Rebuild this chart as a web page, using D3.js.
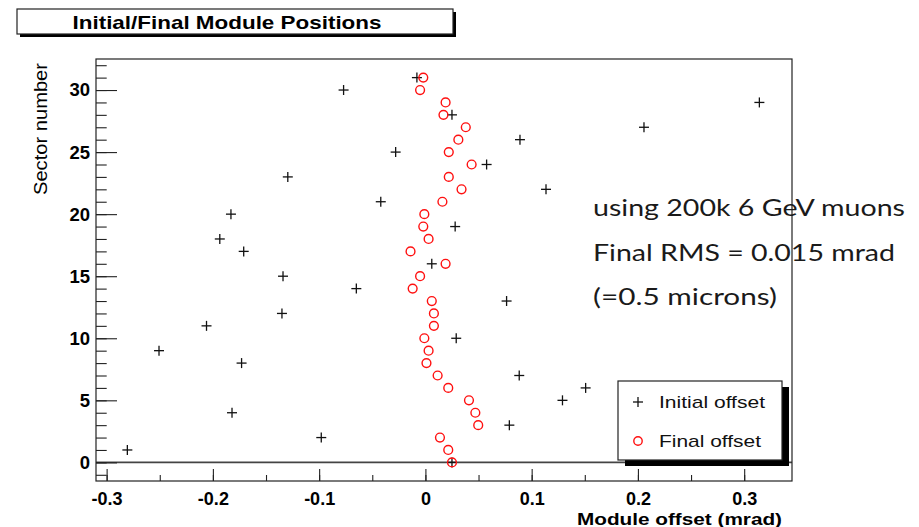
<!DOCTYPE html>
<html>
<head>
<meta charset="utf-8">
<script src="https://cdn.jsdelivr.net/npm/d3@7"></script>
<style>
  body { margin: 0; background: #fff; }
  svg { display: block; }
</style>
</head>
<body>
<svg id="chart" width="919" height="527"></svg>
<script>
const sectors = [
  0, 1, 2, 3, 4, 5, 6, 7, 8, 9, 10, 11, 12, 13, 14, 15,
  16, 17, 18, 19, 20, 21, 22, 23, 24, 25, 26, 27, 28, 29, 30, 31,
];
const initialOffset = [
  0.025, -0.2805, -0.098, 0.079, -0.182, 0.129, 0.1508, 0.0883,
  -0.173, -0.2507, 0.029, -0.206, -0.135, 0.0764, -0.065, -0.134,
  0.006, -0.171, -0.1935, 0.028, -0.183, -0.042, 0.1135, -0.1295,
  0.0576, -0.028, 0.089, 0.2057, 0.025, 0.3143, -0.077, -0.008,
];
const finalOffset = [
  0.025, 0.0215, 0.0137, 0.0497, 0.047, 0.041, 0.0215, 0.0115,
  0.001, 0.003, -0.001, 0.008, 0.008, 0.006, -0.012, -0.005,
  0.019, -0.014, 0.003, -0.002, -0.001, 0.016, 0.034, 0.022,
  0.0435, 0.022, 0.031, 0.038, 0.017, 0.019, -0.005, -0.002,
];
const xMajorTicks = [-0.3, -0.2, -0.1, 0, 0.1, 0.2, 0.3];
const xTickLabels = ['-0.3', '-0.2', '-0.1', '0', '0.1', '0.2', '0.3'];
const xMinorTicks = [-0.3, -0.25, -0.2, -0.15, -0.1, -0.05, 0, 0.05, 0.1, 0.15, 0.2, 0.25, 0.3];
const yMajorTicks = [0, 5, 10, 15, 20, 25, 30];
const yMinorTicks = d3.range(-1, 33);
const noteLines = ['using 200k 6 GeV muons', 'Final RMS = 0.015 mrad', '(=0.5 microns)'];
const legendLabels = ['Initial offset', 'Final offset'];

const margin = { top: 59, right: 127, bottom: 46, left: 96 };
const width = 919 - margin.left - margin.right;
const height = 527 - margin.top - margin.bottom;

const svg = d3.select('#chart');
const g = svg.append('g').attr('transform', `translate(${margin.left},${margin.top})`);

const x = d3.scaleLinear().domain([-0.31, 0.345]).range([0, width]);
const y = d3.scaleLinear().domain([-1.5, 32.5]).range([height, 0]);

const sansBold = "'Liberation Sans', Arial, sans-serif";

// line at sector 0
g.append('line')
  .attr('x1', 0)
  .attr('x2', width)
  .attr('y1', y(0))
  .attr('y2', y(0))
  .attr('stroke', '#444')
  .attr('stroke-width', 1.6);

// x axis: minor then major ticks, pointing up into the frame
g.append('g')
  .attr('transform', `translate(0,${height})`)
  .call(d3.axisBottom(x).tickValues(xMinorTicks).tickSize(-6).tickFormat(''))
  .call((a) => a.select('.domain').remove());

const xAxis = g.append('g')
  .attr('transform', `translate(0,${height})`)
  .call(
    d3.axisBottom(x)
      .tickValues(xMajorTicks)
      .tickSize(-12)
      .tickPadding(11.5)
      .tickFormat((d, i) => xTickLabels[i])
  );
xAxis.select('.domain').remove();
xAxis.selectAll('text')
  .attr('font-family', sansBold)
  .attr('font-weight', 'bold')
  .attr('font-size', 18)
  .attr('fill', '#000');

// y axis
g.append('g')
  .call(d3.axisLeft(y).tickValues(yMinorTicks).tickSize(-10.7).tickFormat(''))
  .call((a) => a.select('.domain').remove());

const yAxis = g.append('g')
  .call(d3.axisLeft(y).tickValues(yMajorTicks).tickSize(-21).tickPadding(6));
yAxis.select('.domain').remove();
yAxis.selectAll('text')
  .attr('font-family', sansBold)
  .attr('font-weight', 'bold')
  .attr('font-size', 18.5)
  .attr('fill', '#000');

svg.selectAll('.tick line').attr('stroke', '#222').attr('stroke-width', 1.1);

// markers
function plus(sel, size) {
  sel.append('line').attr('x1', -size).attr('x2', size).attr('y1', 0).attr('y2', 0);
  sel.append('line').attr('x1', 0).attr('x2', 0).attr('y1', -size).attr('y2', size);
}

const points = sectors.map((s, i) => ({ s, init: initialOffset[i], fin: finalOffset[i] }));

const initG = g.append('g').attr('stroke', '#111').attr('stroke-width', 1.3);
points.forEach((p) => {
  initG.append('g')
    .attr('transform', `translate(${x(p.init)},${y(p.s)})`)
    .call(plus, 5);
});

g.append('g')
  .selectAll('circle')
  .data(points)
  .join('circle')
  .attr('cx', (d) => x(d.fin))
  .attr('cy', (d) => y(d.s))
  .attr('r', 4.4)
  .attr('fill', 'none')
  .attr('stroke', '#ff1010')
  .attr('stroke-width', 1.4);

// annotation (runs past the frame, frame drawn over it)
const noteWidths = [312, 302, 184];
noteLines.forEach((t, i) => {
  svg.append('text')
    .attr('x', 593)
    .attr('y', 216 + i * 44.5)
    .attr('font-family', "Lato, 'Noto Sans', sans-serif")
    .attr('font-size', 24)
    .attr('fill', '#1a1a1a')
    .attr('textLength', noteWidths[i])
    .attr('lengthAdjust', 'spacingAndGlyphs')
    .text(t);
});

// frame
g.append('rect')
  .attr('width', width)
  .attr('height', height)
  .attr('fill', 'none')
  .attr('stroke', '#222')
  .attr('stroke-width', 1.2);

// legend
const lg = svg.append('g').attr('transform', 'translate(618,381)');
lg.append('rect').attr('x', 7).attr('y', 6).attr('width', 164).attr('height', 79).attr('fill', '#000');
lg.append('rect')
  .attr('width', 164)
  .attr('height', 79)
  .attr('fill', '#fff')
  .attr('stroke', '#222')
  .attr('stroke-width', 1.2);
lg.append('g')
  .attr('transform', 'translate(20,21)')
  .attr('stroke', '#111')
  .attr('stroke-width', 1.3)
  .call(plus, 5);
lg.append('circle')
  .attr('cx', 20)
  .attr('cy', 60)
  .attr('r', 4.2)
  .attr('fill', 'none')
  .attr('stroke', '#ff1010')
  .attr('stroke-width', 1.4);
const legendWidths = [106, 102];
legendLabels.forEach((t, i) => {
  lg.append('text')
    .attr('x', 41)
    .attr('y', 27 + i * 38.5)
    .attr('font-family', "'Liberation Sans', Arial, sans-serif")
    .attr('font-size', 17)
    .attr('fill', '#111')
    .attr('textLength', legendWidths[i])
    .attr('lengthAdjust', 'spacingAndGlyphs')
    .text(t);
});

// axis titles
svg.append('text')
  .attr('x', 782)
  .attr('y', 524.5)
  .attr('text-anchor', 'end')
  .attr('font-family', sansBold)
  .attr('font-weight', 'bold')
  .attr('font-size', 17)
  .attr('textLength', 205)
  .attr('lengthAdjust', 'spacingAndGlyphs')
  .text('Module offset (mrad)');

svg.append('text')
  .attr('transform', 'translate(47,63) rotate(-90)')
  .attr('text-anchor', 'end')
  .attr('font-family', "'Liberation Sans', Arial, sans-serif")
  .attr('font-size', 17.5)
  .attr('textLength', 132)
  .attr('lengthAdjust', 'spacingAndGlyphs')
  .text('Sector number');

// title box
const tb = svg.append('g').attr('transform', 'translate(17,9)');
tb.append('rect').attr('x', 3).attr('y', 3).attr('width', 436).attr('height', 25).attr('fill', '#000');
tb.append('rect')
  .attr('width', 436)
  .attr('height', 25)
  .attr('fill', '#fff')
  .attr('stroke', '#222')
  .attr('stroke-width', 1.2);
tb.append('text')
  .attr('x', 210)
  .attr('y', 19.5)
  .attr('text-anchor', 'middle')
  .attr('font-family', sansBold)
  .attr('font-weight', 'bold')
  .attr('font-size', 18.5)
  .attr('textLength', 309)
  .attr('lengthAdjust', 'spacingAndGlyphs')
  .text('Initial/Final Module Positions');
</script>
</body>
</html>
